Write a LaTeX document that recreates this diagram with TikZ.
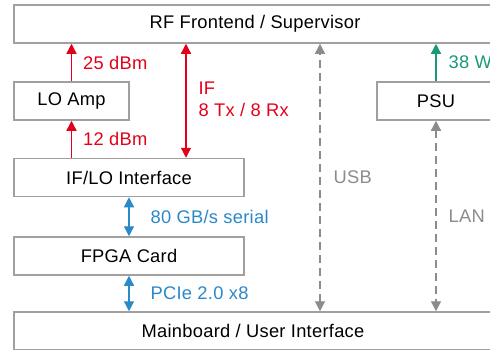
\documentclass[tikz,border=0pt]{standalone}
\usepackage{fontspec}
\setmainfont{Liberation Sans}[LetterSpace=1.5]
\usepackage{xcolor}
\usepackage{tikz}
\usetikzlibrary{arrows.meta, positioning}
\definecolor{rfred}{HTML}{E3001B}
\definecolor{pwrgreen}{HTML}{1A9A78}
\definecolor{datablue}{HTML}{2A89C9}
\definecolor{ctrlgray}{HTML}{8C8C8C}
\definecolor{boxgray}{HTML}{A0A0A0}

\begin{document}
\begin{tikzpicture}[
    x=1pt, y=-1pt,
    block/.style={draw=boxgray, line width=1.5pt, fill=white,
                  minimum height=38pt, inner sep=0pt,
                  font=\fontsize{18.3}{22}\selectfont},
    link/.style={line width=1.3pt, draw=#1,
                 -{Triangle[length=10pt, width=10pt]}},
    duplex/.style={line width=1.3pt, draw=#1,
                   {Triangle[length=10pt, width=10pt]}-{Triangle[length=10pt, width=10pt]}},
    bus/.style={duplex=ctrlgray, dash pattern=on 8pt off 5pt},
    tag/.style={text=#1, font=\fontsize{18.3}{22}\selectfont, align=left,
                inner sep=0pt, midway},
]
    \fill[white] (0,0) rectangle (490,349);
    \clip (0,0) rectangle (490,349);

    % Blocks
    \node[block, minimum width=482pt] (rf) at (255,24) {RF Frontend / Supervisor};
    \node[block, minimum width=115pt] (loamp) at (71.5,101) {LO Amp};
    \node[block, minimum width=118pt] (psu) at (436,101) {PSU};
    \node[block, minimum width=230pt] (iflo) at (129,177.5) {IF/LO Interface};
    \node[block, minimum width=230pt, below=39pt of iflo.south west, anchor=north west] (fpga) {FPGA Card};
    \node[block, minimum width=478pt] (main) at (253,331) {Mainboard / User Interface};

    % RF side
    \draw[link=rfred] (loamp) -- node[tag=rfred, right=11pt] {25 dBm} (loamp |- rf.south);
    \draw[link=rfred] (iflo.north -| loamp) -- node[tag=rfred, right=11pt] {12 dBm} (loamp.south);
    \draw[duplex=rfred] ([xshift=57pt]iflo.north) --
        node[tag=rfred, right=12pt, yshift=1pt] {IF\\8 Tx / 8 Rx} ([xshift=57pt]iflo.north |- rf.south);

    % Data path
    \draw[duplex=datablue] (iflo) -- node[tag=datablue, right=21pt] {80 GB/s serial} (fpga);
    \draw[duplex=datablue] (fpga) -- node[tag=datablue, right=21pt] {PCIe 2.0 x8} (fpga |- main.north);

    % Supply and control
    \draw[link=pwrgreen] (psu) -- node[tag=pwrgreen, right=12pt] {38 W} (psu |- rf.south);
    \draw[bus] ([xshift=67pt]main.north) -- node[tag=ctrlgray, right=13pt] {USB} ([xshift=67pt]main.north |- rf.south);
    \draw[bus] (psu.south) -- node[tag=ctrlgray, right=12pt] {LAN} (psu.south |- main.north);
\end{tikzpicture}
\end{document}
